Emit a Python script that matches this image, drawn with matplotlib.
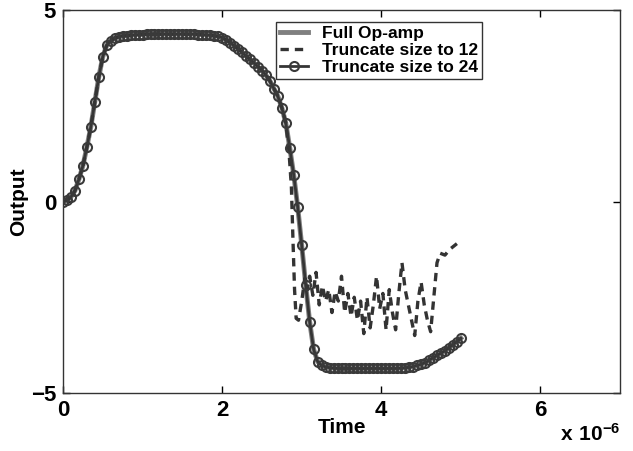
import numpy as np
import matplotlib
matplotlib.use('Agg')
import matplotlib.pyplot as plt

plt.rcParams['font.family'] = ['Liberation Sans', 'DejaVu Sans']
plt.rcParams['font.weight'] = 'bold'
plt.rcParams['mathtext.fontset'] = 'custom'
plt.rcParams['mathtext.rm'] = 'Liberation Sans:bold'
plt.rcParams['mathtext.bf'] = 'Liberation Sans:bold'

# time in units of 1e-6 s, step 0.05
time_us = np.linspace(0, 5, 101)

# full op-amp output (the 24 truncation lies on top of it)
out_full = [0.00, 0.03, 0.12, 0.28, 0.58, 0.93, 1.42, 1.95, 2.60, 3.25,
            3.78, 4.08, 4.20, 4.26, 4.30, 4.32, 4.33, 4.34, 4.35, 4.36,
            4.36, 4.37, 4.37, 4.37, 4.37, 4.37, 4.37, 4.37, 4.37, 4.37,
            4.37, 4.37, 4.37, 4.37, 4.36, 4.36, 4.35, 4.34, 4.33, 4.31,
            4.28, 4.22, 4.15, 4.07, 3.99, 3.90, 3.80, 3.71, 3.62, 3.52,
            3.42, 3.30, 3.15, 2.95, 2.75, 2.45, 2.05, 1.40, 0.69, -0.15,
            -1.14, -2.18, -3.14, -3.86, -4.18, -4.28, -4.32, -4.34, -4.35, -4.36,
            -4.36, -4.36, -4.36, -4.36, -4.36, -4.36, -4.36, -4.36, -4.36, -4.36,
            -4.36, -4.36, -4.36, -4.36, -4.36, -4.35, -4.34, -4.33, -4.31, -4.28,
            -4.25, -4.21, -4.15, -4.08, -4.02, -3.96, -3.90, -3.82, -3.74, -3.66,
            -3.57]
out_24 = list(out_full)

# truncate to 12: follows the full curve up to 2.80, then rings
t12_tail = [2.84, 2.87, 2.89, 2.91, 2.93, 2.96, 3.00, 3.04, 3.07, 3.10,
            3.14, 3.18, 3.22, 3.26, 3.30, 3.34, 3.38, 3.42, 3.46, 3.50,
            3.54, 3.58, 3.62, 3.66, 3.70, 3.74, 3.78, 3.82, 3.86, 3.90,
            3.94, 3.98, 4.02, 4.06, 4.10, 4.14, 4.18, 4.22, 4.26, 4.30,
            4.34, 4.38, 4.42, 4.46, 4.50, 4.54, 4.58, 4.62, 4.66, 4.70,
            4.74, 4.80, 4.86, 4.95]
out12_tail = [1.30, 0.40, -1.00, -2.30, -3.05, -3.10, -2.60, -2.00, -2.30, -1.95,
              -2.45, -1.85, -2.70, -2.20, -2.60, -2.30, -2.90, -2.35, -2.60, -1.95,
              -2.90, -2.40, -3.00, -2.50, -3.10, -2.60, -3.45, -2.50, -3.30, -2.70,
              -1.95, -2.80, -2.40, -3.35, -2.30, -2.90, -3.35, -2.40, -1.60, -2.30,
              -2.70, -3.10, -3.50, -2.60, -2.10, -2.70, -3.10, -3.40, -2.50, -1.60,
              -1.35, -1.40, -1.25, -1.10]
t12 = list(time_us[:57]) + t12_tail
out12 = out_full[:57] + out12_tail

fig = plt.figure(figsize=(6.33, 4.51), dpi=100)
ax = fig.add_axes([0.0995, 0.1286, 0.88, 0.8492])

ax.plot(time_us, out_full, color='#808080', lw=3.5, label='Full Op-amp', zorder=2)
ax.plot(t12, out12, color='#333333', lw=2.4, ls=(0, (2.5, 1.8)), label='Truncate size to 12', zorder=3)
ax.plot(time_us, out_24, color='#353535', lw=2.0, marker='o', ms=6.5, mfc='none',
        mec='#3a3a3a', mew=1.5, label='Truncate size to 24', zorder=4)

ax.set_xlim(0, 7)
ax.set_ylim(-5, 5)
ax.set_xticks([0, 2, 4, 6])
ax.set_yticks([-5, 0, 5])
ax.tick_params(direction='in', length=5, width=1, top=True, right=True,
               labelsize=16, pad=5, colors='black')
for lab in ax.get_xticklabels() + ax.get_yticklabels():
    lab.set_fontweight('bold')
for sp in ax.spines.values():
    sp.set_color('#333333')
    sp.set_linewidth(1)

ax.set_xlabel('Time', fontsize=15, fontweight='bold', labelpad=-2)
ax.set_ylabel('Output', fontsize=15, fontweight='bold', labelpad=2)
fig.text(0.885, 0.022, r'$\mathbf{x\ 10^{-6}}$', fontsize=15)

leg = ax.legend(loc='upper left', bbox_to_anchor=(0.382, 0.97),
                frameon=True, fancybox=False, edgecolor='black', numpoints=1,
                handlelength=1.6, handletextpad=0.8, borderpad=0.25, labelspacing=0.1,
                borderaxespad=0, prop={'weight': 'bold', 'size': 12.5})
leg.get_frame().set_linewidth(1)

fig.savefig('out.png', dpi=100)
